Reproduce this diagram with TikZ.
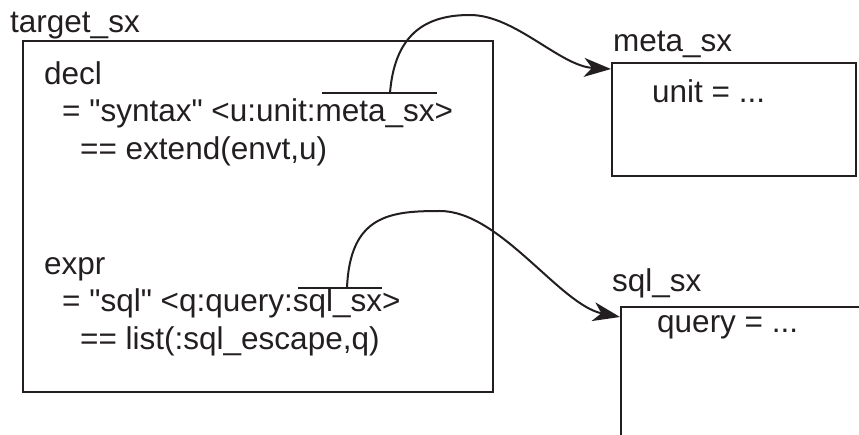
\documentclass[tikz,border=0pt]{standalone}
\usepackage{fontspec}
\setmainfont{Liberation Sans}
\usetikzlibrary{arrows.meta}
\definecolor{ink}{RGB}{35,31,32}
\begin{document}
\begin{tikzpicture}[x=1pt,y=-1pt,
  txt/.style={anchor=base west,inner sep=0pt,text=ink,font=\fontsize{31.5}{37.5}\selectfont},
  frame/.style={draw=ink,line width=2.2pt},
  bar/.style={draw=ink,line width=2pt},
  link/.style={draw=ink,line width=2pt,-{Stealth[length=27pt,width=19pt,inset=8pt]}}]
\useasboundingbox (0,0) rectangle (859,435);
\clip (0,0) rectangle (859,435);
% boxes
\draw[frame] (23,41) rectangle (493,392);
\draw[frame] (612,63) rectangle (856,176);
\draw[frame] (621,460) -- (621,307) -- (880,307);
% titles
\node[txt] (t1) at (10,33) {target\_sx};
\node[txt] (t2) at (613,52) {meta\_sx};
\node[txt] (t3) at (612,292) {sql\_sx};
% contents of target_sx
\node[txt] (d1) at (44,85) {decl};
\node[txt] (d2) at (62,122) {= \textquotedbl syntax\textquotedbl{} <u:unit:meta\_sx>};
\node[txt] (d3) at (80,160) {== extend(envt,u)};
\node[txt] (e1) at (44,275) {expr};
\node[txt] (e2) at (62,312) {= \textquotedbl sql\textquotedbl{} <q:query:sql\_sx>};
\node[txt] (e3) at (80,350) {== list(:sql\_escape,q)};
\node[txt] (m1) at (652,103) {unit = ...};
\node[txt] (s1) at (657,333) {query = ...};
% overbars
\coordinate (b1l) at (322,93);
\coordinate (b1r) at (437,93);
\coordinate (b1s) at (390,93);
\coordinate (b2l) at (298,288);
\coordinate (b2r) at (382,288);
\coordinate (b2s) at (347,288);
\draw[bar] (b1l) -- (b1r);
\draw[bar] (b2l) -- (b2r);
% connectors
\coordinate (p1) at (470,15);
\coordinate (tip1) at (611,69);
\coordinate (p2) at (440,211);
\coordinate (tip2) at (620,317);
\draw[link] (b1s) .. controls (395,30) and (430,15) .. (p1)
  .. controls (515,15) and (560,66) .. (tip1);
\draw[link] (b2s) .. controls (350,215) and (390,211) .. (p2)
  .. controls (500,211) and (560,305) .. (tip2);
\end{tikzpicture}
\end{document}
